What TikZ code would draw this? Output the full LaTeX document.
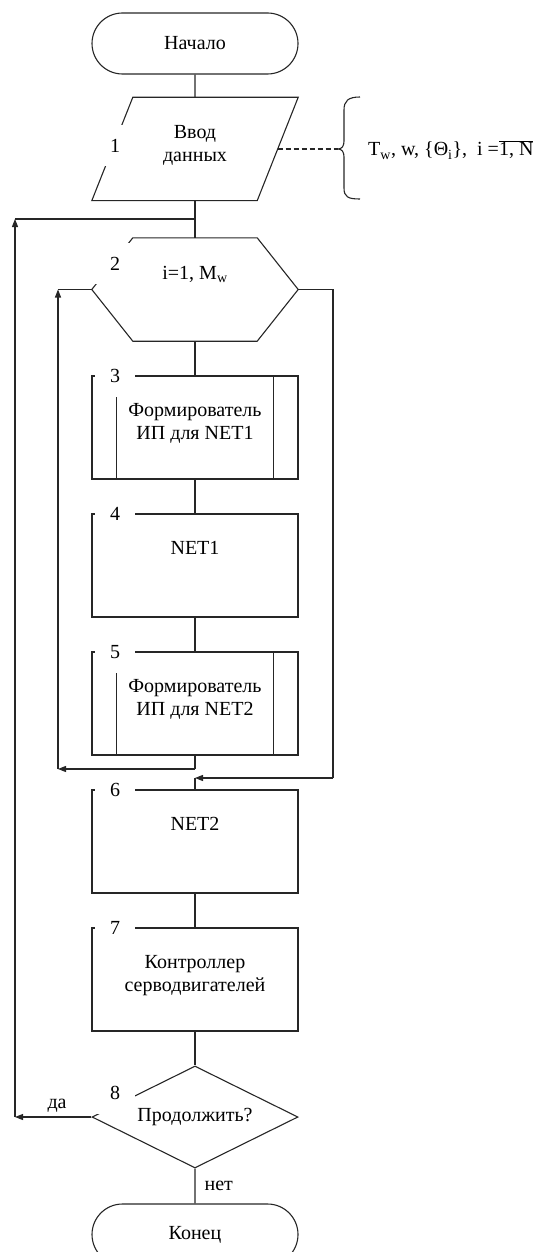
\documentclass[tikz,border=0pt]{standalone}
\usepackage{fontspec}
\setmainfont{Liberation Serif}
\usetikzlibrary{shapes.geometric,shapes.misc,arrows.meta,positioning}

\tikzset{
    line/.style={draw=black!85, line width=1.1pt},
    arr/.style={line, -{Triangle[length=8pt,width=6pt]}},
    term/.style={rounded rectangle, line, minimum width=206, minimum height=61, inner sep=0},
    block/.style={rectangle, line, minimum width=206, minimum height=103, inner sep=0},
    frame/.style={rectangle, minimum width=206, minimum height=103, inner sep=0},
    cond/.style={diamond, aspect=2, line, minimum width=206, minimum height=102, inner sep=0},
    txt/.style={align=center, anchor=north, yshift=-28pt, inner sep=0},
    num/.style={fill=white, minimum width=40, minimum height=41, inner sep=0}
}

\begin{document}
\begin{tikzpicture}[x=1pt, y=-1pt, font=\fontsize{20}{23}\selectfont]
            \useasboundingbox (0,0) rectangle (537,1252);
            \clip (0,0) rectangle (537,1252);

            % shapes
            \node[term] (start) at (195,43.5) {Начало};
            \node[frame, label={[txt]north:Ввод\\данных}] (in1) at (195,149) {};
            \node[frame, label={[txt]north:{i=1, M\textsubscript{w}}}] (loop2) at (195,289.5) {};
            \node[block, label={[txt]north:Формирователь\\ИП для NET1}] (b3) at (195,427.5) {};
            \node[block, label={[txt]north:NET1}] (b4) at (195,565.5) {};
            \node[block, label={[txt]north:Формирователь\\ИП для NET2}] (b5) at (195,703.5) {};
            \node[block, label={[txt]north:NET2}] (b6) at (195,841.5) {};
            \node[block, label={[txt]north:Контроллер\\серводвигателей}] (b7) at (195,979.5) {};
            \node[cond] (d8) at (195,1117) {Продолжить?};
            \node[term] (end) at (195,1234.5) {Конец};

            \draw[line] (in1.south west) -- ([xshift=41pt]in1.north west) -- (in1.north east)
                -- ([xshift=-41pt]in1.south east) -- cycle;
            \draw[line] ([xshift=41pt]loop2.north west) -- ([xshift=-41pt]loop2.north east) -- (loop2.east)
                -- ([xshift=-41pt]loop2.south east) -- ([xshift=41pt]loop2.south west) -- (loop2.west) -- cycle;
            \draw[line] ([xshift=25pt]b3.north west) -- ([xshift=25pt]b3.south west);
            \draw[line] ([xshift=-25pt]b3.north east) -- ([xshift=-25pt]b3.south east);
            \draw[line] ([xshift=25pt]b5.north west) -- ([xshift=25pt]b5.south west);
            \draw[line] ([xshift=-25pt]b5.north east) -- ([xshift=-25pt]b5.south east);

            % numbers
            \node[num] (n1) at (115,146) {1};
            \node[num] (n2) at (115,263.5) {2};
            \node[num] (n3) at (115,376) {3};
            \node[num] (n4) at (115,514) {4};
            \node[num] (n5) at (115,652) {5};
            \node[num] (n6) at (115,790) {6};
            \node[num] (n7) at (115,928) {7};
            \node[num] (n8) at (115,1093) {8};

            % comment
            \coordinate (cb) at (338,149);
            \draw[line, dash pattern=on 5pt off 3pt] ([xshift=-20.5pt]in1.east) -- (cb);
            \draw[line] (360,97) .. controls (348,97) and (344,101) .. (344,110) -- (344,141)
                .. controls (344,146) and (342,149) .. (cb) .. controls (342,149) and (344,152) .. (344,157)
                -- (344,188) .. controls (344,197) and (348,199) .. (360,199);
            \node[anchor=west, inner sep=0] (data) at (368,150)
                {T\textsubscript{w}, w, \{Θ\textsubscript{i}\},~ i =$\overline{\mbox{1, N}}$};

            % connectors
            \coordinate (j1) at (195,219);
            \coordinate (up1) at (15,219);
            \coordinate (dn1) at (15,1117);
            \coordinate (up2) at (58,289.5);
            \coordinate (dn2) at (58,769);
            \coordinate (j2) at (195,769);
            \coordinate (rt1) at (333,289.5);
            \coordinate (rt2) at (333,778);
            \coordinate (j3) at (195,778);

            \draw[line] (start) -- (in1);
            \draw[line] (in1) -- (loop2);
            \draw[line] (loop2) -- (b3);
            \draw[line] (b3) -- (b4);
            \draw[line] (b4) -- (b5);
            \draw[line] (b5) -- (j2);
            \draw[arr] (j2) -- (dn2);
            \draw[arr] (dn2) -- (up2);
            \draw[line] (up2) -- (loop2.west);
            \draw[line] (loop2.east) -- (rt1) -- (rt2);
            \draw[arr] (rt2) -- (j3);
            \draw[line] (j3) -- (b6);
            \draw[line] (b6) -- (b7);
            \draw[line] (b7) -- (d8);
            \draw[arr] (d8.west) -- node[above, pos=0.45, inner sep=4pt] {да} (dn1);
            \draw[arr] (dn1) -- (up1);
            \draw[line] (up1) -- (j1);
            \draw[line] (d8) -- node[right, inner sep=9pt] {нет} (end);
\end{tikzpicture}
\end{document}
